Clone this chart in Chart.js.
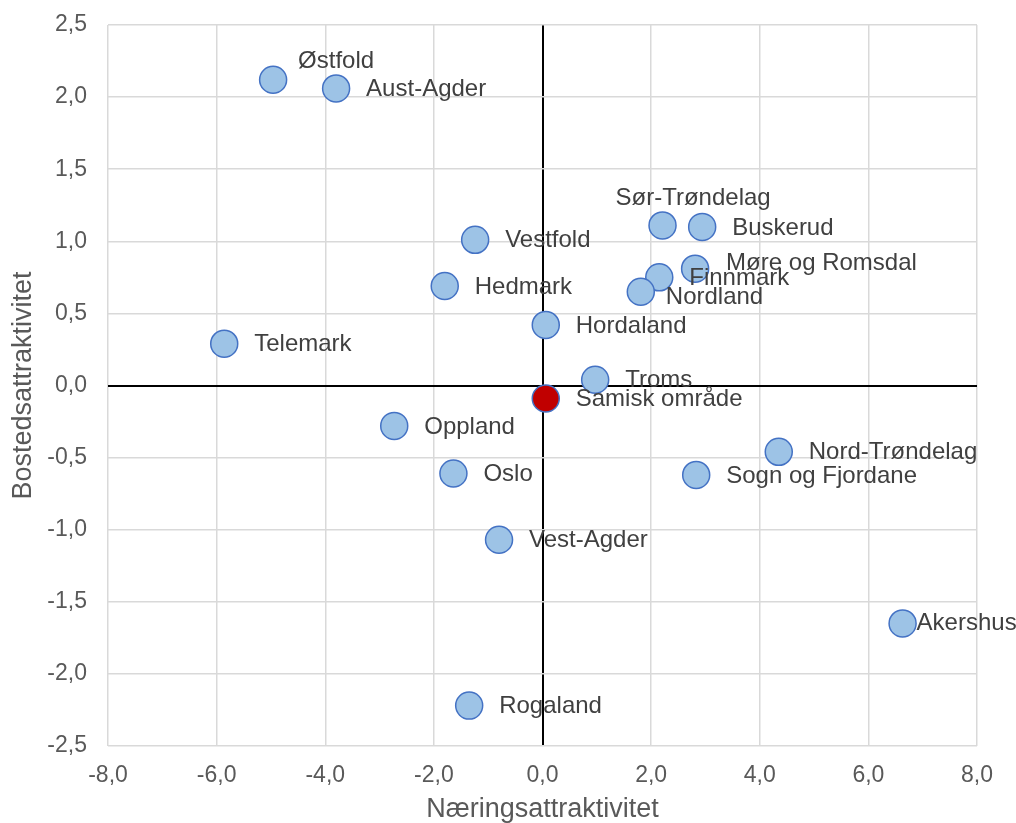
<!DOCTYPE html>
<html lang="no">
<head>
  <meta charset="UTF-8">
  <title>Nærings- og bostedsattraktivitet</title>
  <script src="https://cdn.jsdelivr.net/npm/chart.js"></script>
  <style>
    body {
      margin: 0;
      background: #ffffff;
    }
    canvas {
      display: block;
    }
  </style>
</head>
<body>
  <canvas id="scatterChart" width="1016" height="823"></canvas>

  <script>
    // data
    const regions = [
      "Østfold", "Aust-Agder", "Telemark", "Sør-Trøndelag", "Buskerud",
      "Vestfold", "Møre og Romsdal", "Finnmark", "Nordland", "Hedmark",
      "Hordaland", "Troms", "Samisk område", "Oppland", "Oslo",
      "Vest-Agder", "Rogaland", "Nord-Trøndelag", "Sogn og Fjordane", "Akershus"
    ];
    const naering = [
      -4.96, -3.80, -5.86, 2.21, 2.94,
      -1.24, 2.81, 2.15, 1.81, -1.80,
      0.06, 0.97, 0.06, -2.73, -1.64,
      -0.80, -1.35, 4.35, 2.83, 6.63
    ];
    const bosted = [
      2.12, 2.06, 0.29, 1.11, 1.10,
      1.01, 0.81, 0.75, 0.65, 0.69,
      0.42, 0.04, -0.09, -0.28, -0.61,
      -1.07, -2.22, -0.46, -0.62, -1.65
    ];
    const xTicks = [-8, -6, -4, -2, 0, 2, 4, 6, 8];
    const yTicks = [-2.5, -2, -1.5, -1, -0.5, 0, 0.5, 1, 1.5, 2, 2.5];
    const highlighted = "Samisk område";

    const FONT = "'Liberation Sans', Arial, sans-serif";
    const fmt = v => v.toFixed(1).replace(".", ",");

    // label placement next to each point (default: right of the marker)
    const labelOffset = {
      "Østfold": [25, -18],
      "Sør-Trøndelag": [-47, -27],
      "Møre og Romsdal": [31, -5],
      "Nordland": [25, 6],
      "Akershus": [14, 0]
    };

    const pointLabels = {
      id: "pointLabels",
      afterDatasetsDraw(chart) {
        const ctx = chart.ctx;
        const meta = chart.getDatasetMeta(0);
        ctx.save();
        ctx.font = "24px " + FONT;
        ctx.fillStyle = "#404040";
        ctx.textAlign = "left";
        ctx.textBaseline = "middle";
        meta.data.forEach((pt, i) => {
          const name = regions[i];
          const off = labelOffset[name] || [30, 1];
          ctx.fillText(name, pt.x + off[0], pt.y + off[1]);
        });
        ctx.restore();
      }
    };

    const ctx = document.getElementById("scatterChart").getContext("2d");
    const chart = new Chart(ctx, {
      type: "scatter",
      data: {
        datasets: [{
          label: "Fylker",
          data: regions.map((r, i) => ({ x: naering[i], y: bosted[i] })),
          pointRadius: 13.5,
          pointHoverRadius: 13.5,
          pointBorderWidth: 1.5,
          pointBorderColor: "#4472c4",
          pointBackgroundColor: regions.map(r => r === highlighted ? "#c00000" : "#9dc3e6")
        }]
      },
      plugins: [pointLabels],
      options: {
        responsive: false,
        animation: false,
        layout: {
          padding: { left: 0, top: 25, right: 39, bottom: 0 }
        },
        plugins: {
          legend: { display: false },
          tooltip: { enabled: false }
        },
        scales: {
          x: {
            type: "linear",
            min: -8,
            max: 8,
            afterBuildTicks: s => { s.ticks = xTicks.map(v => ({ value: v })); },
            afterFit: s => { s.height = 77; },
            border: { display: false },
            grid: {
              drawTicks: false,
              color: c => c.tick && c.tick.value === 0 ? "#000000" : "#d9d9d9",
              lineWidth: c => c.tick && c.tick.value === 0 ? 2 : 1.5
            },
            ticks: {
              padding: 16,
              color: "#595959",
              font: { family: FONT, size: 23 },
              callback: v => fmt(v)
            },
            title: {
              display: true,
              text: "Næringsattraktivitet",
              color: "#595959",
              font: { family: FONT, size: 27, lineHeight: 1 },
              padding: 0
            }
          },
          y: {
            type: "linear",
            min: -2.5,
            max: 2.5,
            afterBuildTicks: s => { s.ticks = yTicks.map(v => ({ value: v })); },
            afterFit: s => {
              s.width = 108;
              s.paddingTop = 0;
              s.paddingBottom = 0;
            },
            border: { display: false },
            grid: {
              drawTicks: false,
              color: c => c.tick && c.tick.value === 0 ? "#000000" : "#d9d9d9",
              lineWidth: c => c.tick && c.tick.value === 0 ? 2 : 1.5
            },
            ticks: {
              padding: 21,
              color: "#595959",
              font: { family: FONT, size: 23 },
              callback: v => fmt(v)
            },
            title: {
              display: true,
              text: "Bostedsattraktivitet",
              color: "#595959",
              font: { family: FONT, size: 27, lineHeight: 1 },
              padding: { top: 10, bottom: 0 }
            }
          }
        }
      }
    });
  </script>
</body>
</html>
